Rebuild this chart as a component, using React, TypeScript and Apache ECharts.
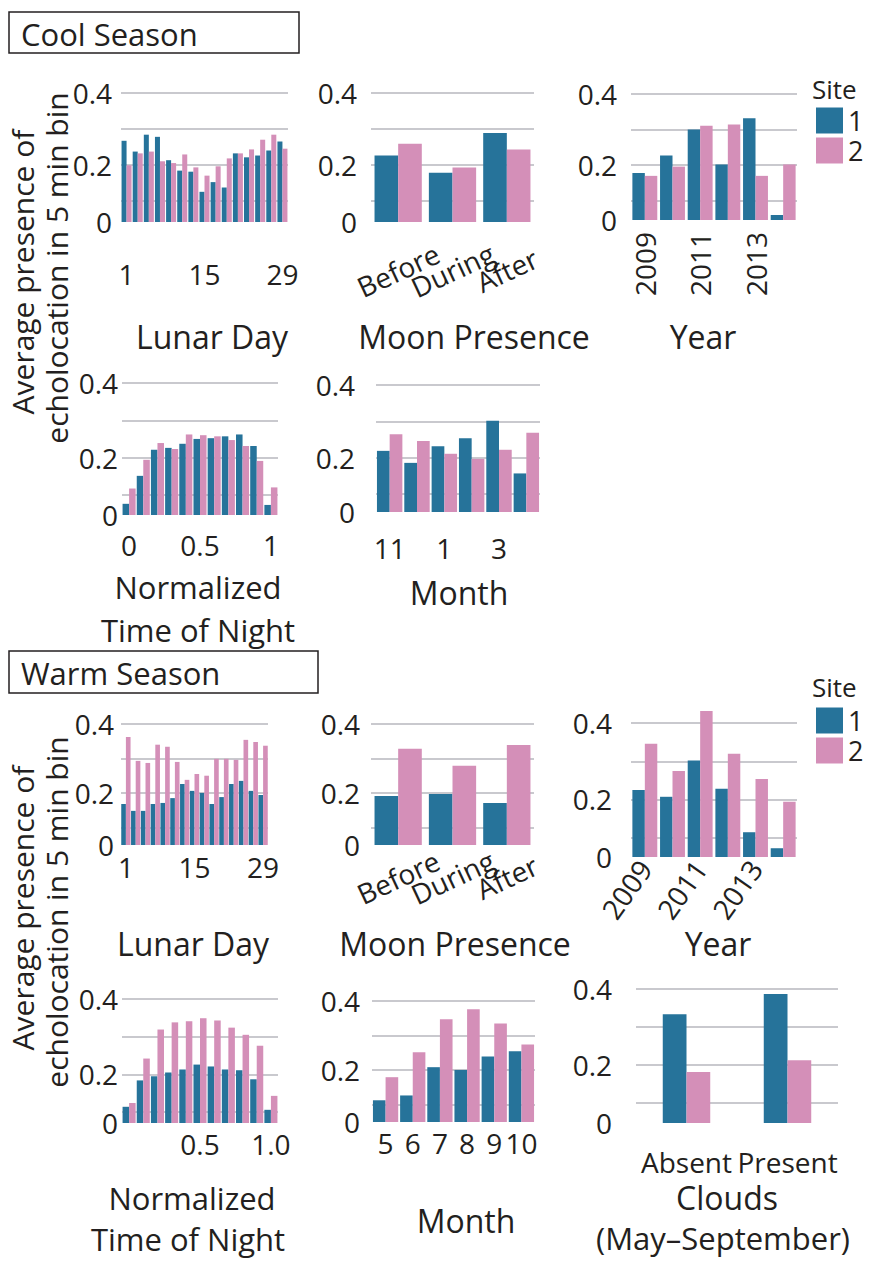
import React, { useEffect, useRef } from "react";
import * as echarts from "echarts";

// ---------- categories ----------
const lunarDays = ["1", "3", "5", "7", "9", "11", "13", "15", "17", "19", "21", "23", "25", "27", "29"];
const moonPhases = ["Before", "During", "After"];
const years = ["2009", "2010", "2011", "2012", "2013", "2014"];
const timeBins = ["0", "0.1", "0.2", "0.3", "0.4", "0.5", "0.6", "0.7", "0.8", "0.9", "1"];
const coolMonths = ["11", "12", "1", "2", "3", "4"];
const warmMonths = ["5", "6", "7", "8", "9", "10"];
const cloudStates = ["Absent", "Present"];

// ---------- tick labels ----------
const yGridValues = [0.4, 0.3, 0.2, 0.1];
const yGridLabels = ["0.4", "", "0.2", ""];
const yZeroLabel = "0";

// ---------- Cool season values ----------
const coolLunarSite1 = [0.267, 0.237, 0.284, 0.278, 0.213, 0.184, 0.181, 0.125, 0.152, 0.137, 0.232, 0.221, 0.226, 0.24, 0.265];
const coolLunarSite2 = [0.199, 0.232, 0.237, 0.21, 0.205, 0.229, 0.193, 0.17, 0.196, 0.218, 0.232, 0.243, 0.27, 0.284, 0.245];
const coolMoonSite1 = [0.226, 0.178, 0.289];
const coolMoonSite2 = [0.259, 0.193, 0.243];
const coolYearSite1 = [0.178, 0.227, 0.3, 0.202, 0.332, 0.06];
const coolYearSite2 = [0.17, 0.196, 0.311, 0.314, 0.17, 0.202];
const coolTimeSite1 = [0.076, 0.151, 0.221, 0.226, 0.237, 0.25, 0.252, 0.257, 0.262, 0.231, 0.073];
const coolTimeSite2 = [0.117, 0.194, 0.239, 0.223, 0.262, 0.26, 0.257, 0.247, 0.231, 0.191, 0.12];
const coolMonthSite1 = [0.219, 0.186, 0.232, 0.254, 0.302, 0.157];
const coolMonthSite2 = [0.265, 0.246, 0.211, 0.197, 0.222, 0.269];

// ---------- Warm season values ----------
const warmLunarSite1 = [0.168, 0.148, 0.148, 0.168, 0.171, 0.185, 0.226, 0.206, 0.2, 0.168, 0.188, 0.226, 0.235, 0.206, 0.194];
const warmLunarSite2 = [0.362, 0.293, 0.287, 0.34, 0.334, 0.29, 0.238, 0.255, 0.25, 0.299, 0.299, 0.296, 0.354, 0.348, 0.337];
const warmMoonSite1 = [0.191, 0.197, 0.171];
const warmMoonSite2 = [0.328, 0.279, 0.339];
const warmYearSite1 = [0.225, 0.207, 0.302, 0.228, 0.114, 0.072];
const warmYearSite2 = [0.346, 0.275, 0.432, 0.32, 0.254, 0.194];
const warmTimeSite1 = [0.114, 0.184, 0.195, 0.205, 0.213, 0.226, 0.221, 0.213, 0.211, 0.187, 0.106];
const warmTimeSite2 = [0.124, 0.242, 0.319, 0.338, 0.341, 0.349, 0.343, 0.324, 0.305, 0.276, 0.143];
const warmMonthSite1 = [0.112, 0.126, 0.208, 0.2, 0.239, 0.254];
const warmMonthSite2 = [0.179, 0.251, 0.347, 0.376, 0.335, 0.274];
const cloudSite1 = [0.334, 0.387];
const cloudSite2 = [0.182, 0.213];

const siteNames = ["1", "2"];

const BLUE = "#26739a";
const PINK = "#d48fb8";
const GRID = "#c9c9ce";
const INK = "#231f20";
const FONT = '"Open Sans", sans-serif';

type Panel = {
  cats: string[];
  s1: number[];
  s2: number[];
  base: number;
  max: number;
  left: number;
  top: number;
  width: number;
  height: number;
  gap: string;
  interval: number;
  margin: number;
  yDist: number;
  rotate?: number;
  center?: boolean;
  fmt?: (v: string) => string;
};

export default function App() {
  const ref = useRef<HTMLDivElement>(null);

  useEffect(() => {
    if (!ref.current) return;
    const chart = echarts.init(ref.current, undefined, { renderer: "svg" });

    const panels: Panel[] = [
      { cats: lunarDays, s1: coolLunarSite1, s2: coolLunarSite2, base: 0.041, max: 0.4, left: 121, top: 93, width: 167, height: 129, gap: "10%", interval: 6, margin: 38, yDist: 9 },
      { cats: moonPhases, s1: coolMoonSite1, s2: coolMoonSite2, base: 0.041, max: 0.4, left: 371, top: 93, width: 163, height: 129, gap: "13%", interval: 0, margin: 48, yDist: 14, rotate: 25, center: true },
      { cats: years, s1: coolYearSite1, s2: coolYearSite2, base: 0.046, max: 0.4, left: 631, top: 94, width: 166, height: 126, gap: "10%", interval: 1, margin: 12, yDist: 14, rotate: 90 },
      { cats: timeBins, s1: coolTimeSite1, s2: coolTimeSite2, base: 0.046, max: 0.4, left: 122, top: 383, width: 156, height: 132, gap: "8%", interval: 4, margin: 16, yDist: 4 },
      { cats: coolMonths, s1: coolMonthSite1, s2: coolMonthSite2, base: 0.051, max: 0.4, left: 376, top: 385, width: 164, height: 127, gap: "7%", interval: 1, margin: 22, yDist: 21 },
      { cats: lunarDays, s1: warmLunarSite1, s2: warmLunarSite2, base: 0.049, max: 0.4, left: 121, top: 724, width: 147, height: 121, gap: "5%", interval: 6, margin: 8, yDist: 7 },
      { cats: moonPhases, s1: warmMoonSite1, s2: warmMoonSite2, base: 0.049, max: 0.4, left: 371, top: 724, width: 163, height: 121, gap: "13%", interval: 0, margin: 32, yDist: 11, rotate: 25, center: true },
      { cats: years, s1: warmYearSite1, s2: warmYearSite2, base: 0.049, max: 0.44, left: 631, top: 708, width: 166, height: 149, gap: "10%", interval: 1, margin: 6, yDist: 19, rotate: 55 },
      { cats: timeBins, s1: warmTimeSite1, s2: warmTimeSite2, base: 0.071, max: 0.4, left: 122, top: 999, width: 156, height: 124, gap: "8%", interval: 4, margin: 7, yDist: 4, fmt: (v) => (v === "0.5" ? "0.5" : v === "1" ? "1.0" : "") },
      { cats: warmMonths, s1: warmMonthSite1, s2: warmMonthSite2, base: 0.049, max: 0.4, left: 372, top: 1001, width: 163, height: 121, gap: "7%", interval: 0, margin: 7, yDist: 12 },
      { cats: cloudStates, s1: cloudSite1, s2: cloudSite2, base: 0.048, max: 0.4, left: 636, top: 989, width: 202, height: 134, gap: "53%", interval: 0, margin: 25, yDist: 24 },
    ];

    const grid: any[] = [];
    const xAxis: any[] = [];
    const yAxis: any[] = [];
    const series: any[] = [];

    panels.forEach((p, i) => {
      grid.push({ left: p.left, top: p.top, width: p.width, height: p.height, containLabel: false });
      const axisLabel: any = {
        interval: p.interval,
        margin: p.margin,
        fontSize: 28,
        color: INK,
        fontFamily: FONT,
        formatter: p.fmt ? p.fmt : (v: string) => v,
      };
      if (p.rotate) axisLabel.rotate = p.rotate;
      if (p.center) {
        axisLabel.align = "center";
        axisLabel.verticalAlign = "middle";
      }
      xAxis.push({
        type: "category",
        gridIndex: i,
        data: p.cats,
        axisLine: { show: false },
        axisTick: { show: false },
        splitLine: { show: false },
        axisLabel,
      });
      yAxis.push({
        type: "value",
        gridIndex: i,
        min: p.base,
        max: p.max,
        show: false,
        splitLine: { show: false },
      });

      const lineData: any[] = yGridValues.map((v, k) => ({
        yAxis: v,
        label: yGridLabels[k] ? { show: true, formatter: yGridLabels[k] } : { show: false },
      }));
      lineData.push({
        yAxis: p.base,
        lineStyle: { color: "rgba(255,255,255,0)", width: 0.01 },
        label: { show: true, formatter: yZeroLabel, color: INK },
      });

      series.push({
        type: "bar",
        name: siteNames[0],
        xAxisIndex: i,
        yAxisIndex: i,
        data: p.s1,
        itemStyle: { color: BLUE },
        barGap: "0%",
        barCategoryGap: p.gap,
        clip: true,
        z: 2,
        markLine: {
          silent: true,
          z: 0,
          precision: 4,
          symbol: "none",
          animation: false,
          emphasis: { disabled: true },
          lineStyle: { color: GRID, width: 2, type: "solid" },
          label: {
            show: true,
            position: "start",
            distance: p.yDist,
            fontSize: 28,
            color: INK,
            fontFamily: FONT,
          },
          data: lineData,
        },
      });
      series.push({
        type: "bar",
        name: siteNames[1],
        xAxisIndex: i,
        yAxisIndex: i,
        data: p.s2,
        itemStyle: { color: PINK },
        barGap: "0%",
        barCategoryGap: p.gap,
        clip: true,
        z: 2,
      });
    });

    const txt = (text: string, x: number, y: number, size: number, align = "center", rotation = 0) => ({
      type: "text",
      x,
      y,
      rotation,
      silent: true,
      style: {
        text,
        fontSize: size,
        fontFamily: FONT,
        fill: INK,
        align,
        verticalAlign: "middle",
        textAlign: align,
        textVerticalAlign: "middle",
      },
    });

    const graphic: any[] = [
      { type: "rect", shape: { x: 9, y: 12, width: 290, height: 41 }, style: { fill: "rgba(0,0,0,0)", stroke: INK, lineWidth: 1.5 }, silent: true },
      txt("Cool Season", 21, 34, 31, "left"),
      { type: "rect", shape: { x: 9, y: 651, width: 309, height: 42 }, style: { fill: "rgba(0,0,0,0)", stroke: INK, lineWidth: 1.5 }, silent: true },
      txt("Warm Season", 21, 673, 31, "left"),
      // y labels
      txt("Average presence of", 22, 272, 30, "center", Math.PI / 2),
      txt("echolocation in 5 min bin", 56, 268, 30, "center", Math.PI / 2),
      txt("Average presence of", 22, 908, 30, "center", Math.PI / 2),
      txt("echolocation in 5 min bin", 56, 912, 30, "center", Math.PI / 2),
      // cool axis titles
      txt("Lunar Day", 212, 336, 32),
      txt("Moon Presence", 474, 336, 32),
      txt("Year", 703, 336, 32),
      txt("Normalized", 198, 587, 31),
      txt("Time of Night", 198, 630, 31),
      txt("Month", 459, 592, 32),
      // warm axis titles
      txt("Lunar Day", 193, 943, 32),
      txt("Moon Presence", 455, 943, 32),
      txt("Year", 718, 943, 32),
      txt("Normalized", 192, 1198, 31),
      txt("Time of Night", 188, 1239, 31),
      txt("Month", 466, 1220, 32),
      txt("Clouds", 727, 1197, 32),
      txt("(May\u2013September)", 723, 1238, 31),
      // legend titles
      txt("Site", 812, 89, 26, "left"),
      txt("Site", 812, 687, 26, "left"),
    ];

    const legendBase = {
      orient: "vertical",
      left: 816,
      itemWidth: 27,
      itemHeight: 26,
      itemGap: 3,
      padding: 0,
      icon: "rect",
      selectedMode: false,
      data: siteNames,
      textStyle: { fontSize: 27, color: INK, fontFamily: FONT, lineHeight: 26, padding: [0, 0, 0, 0] },
    };

    chart.setOption({
      animation: false,
      backgroundColor: "#ffffff",
      grid,
      xAxis,
      yAxis,
      series,
      graphic,
      legend: [
        { ...legendBase, top: 107 },
        { ...legendBase, top: 707 },
      ],
    });

    return () => chart.dispose();
  }, []);

  return <div ref={ref} style={{ position: "absolute", left: 0, top: 0, width: 869, height: 1261 }} />;
}
